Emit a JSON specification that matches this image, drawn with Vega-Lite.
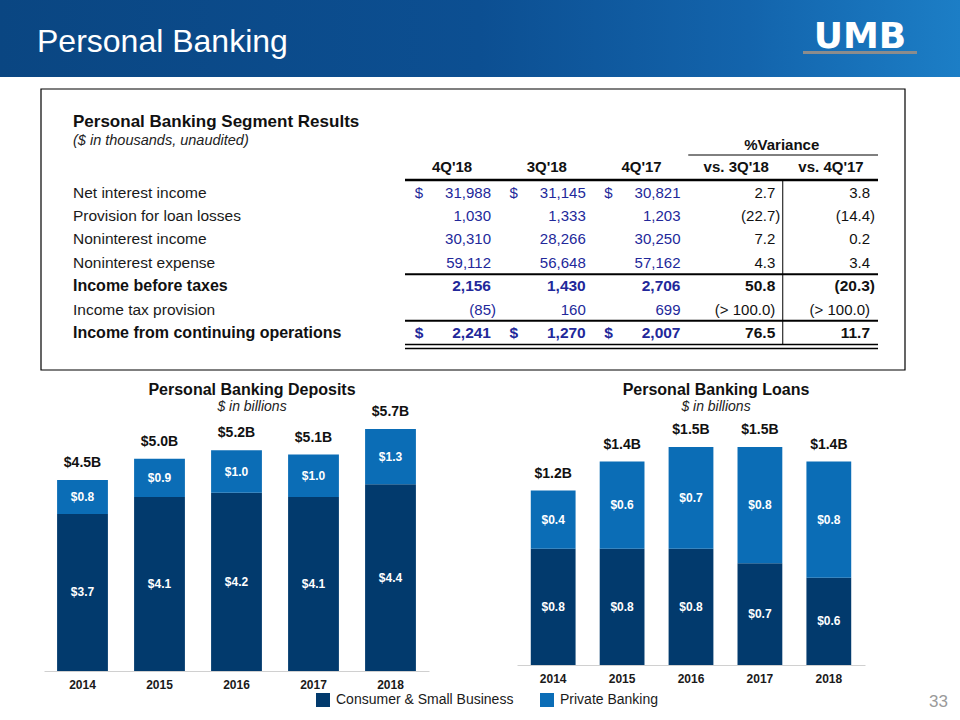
{
  "$schema": "https://vega.github.io/schema/vega-lite/v6.json",
  "width": 960,
  "height": 720,
  "padding": 0,
  "autosize": {"type": "none"},
  "background": "white",
  "config": {
    "view": {"stroke": null},
    "font": "Liberation Sans",
    "legend": {"labelFont": "Liberation Sans"},
    "axis": {"labelFont": "Liberation Sans"}
  },
  "datasets": {
    "table": [
      {"item": "Net interest income", "period": "4Q'18", "value": "31,988", "cur": "$"},
      {"item": "Net interest income", "period": "3Q'18", "value": "31,145", "cur": "$"},
      {"item": "Net interest income", "period": "4Q'17", "value": "30,821", "cur": "$"},
      {"item": "Net interest income", "period": "vs. 3Q'18", "value": "2.7"},
      {"item": "Net interest income", "period": "vs. 4Q'17", "value": "3.8"},
      {"item": "Provision for loan losses", "period": "4Q'18", "value": "1,030"},
      {"item": "Provision for loan losses", "period": "3Q'18", "value": "1,333"},
      {"item": "Provision for loan losses", "period": "4Q'17", "value": "1,203"},
      {"item": "Provision for loan losses", "period": "vs. 3Q'18", "value": "(22.7)"},
      {"item": "Provision for loan losses", "period": "vs. 4Q'17", "value": "(14.4)"},
      {"item": "Noninterest income", "period": "4Q'18", "value": "30,310"},
      {"item": "Noninterest income", "period": "3Q'18", "value": "28,266"},
      {"item": "Noninterest income", "period": "4Q'17", "value": "30,250"},
      {"item": "Noninterest income", "period": "vs. 3Q'18", "value": "7.2"},
      {"item": "Noninterest income", "period": "vs. 4Q'17", "value": "0.2"},
      {"item": "Noninterest expense", "period": "4Q'18", "value": "59,112"},
      {"item": "Noninterest expense", "period": "3Q'18", "value": "56,648"},
      {"item": "Noninterest expense", "period": "4Q'17", "value": "57,162"},
      {"item": "Noninterest expense", "period": "vs. 3Q'18", "value": "4.3"},
      {"item": "Noninterest expense", "period": "vs. 4Q'17", "value": "3.4"},
      {"item": "Income before taxes", "period": "4Q'18", "value": "2,156"},
      {"item": "Income before taxes", "period": "3Q'18", "value": "1,430"},
      {"item": "Income before taxes", "period": "4Q'17", "value": "2,706"},
      {"item": "Income before taxes", "period": "vs. 3Q'18", "value": "50.8"},
      {"item": "Income before taxes", "period": "vs. 4Q'17", "value": "(20.3)"},
      {"item": "Income tax provision", "period": "4Q'18", "value": "(85)"},
      {"item": "Income tax provision", "period": "3Q'18", "value": "160"},
      {"item": "Income tax provision", "period": "4Q'17", "value": "699"},
      {"item": "Income tax provision", "period": "vs. 3Q'18", "value": "(> 100.0)"},
      {"item": "Income tax provision", "period": "vs. 4Q'17", "value": "(> 100.0)"},
      {"item": "Income from continuing operations", "period": "4Q'18", "value": "2,241", "cur": "$"},
      {"item": "Income from continuing operations", "period": "3Q'18", "value": "1,270", "cur": "$"},
      {"item": "Income from continuing operations", "period": "4Q'17", "value": "2,007", "cur": "$"},
      {"item": "Income from continuing operations", "period": "vs. 3Q'18", "value": "76.5"},
      {"item": "Income from continuing operations", "period": "vs. 4Q'17", "value": "11.7"}
    ],
    "deposits": [
      {"year": "2014", "segment": "Consumer & Small Business", "value": 3.7},
      {"year": "2014", "segment": "Private Banking", "value": 0.8},
      {"year": "2015", "segment": "Consumer & Small Business", "value": 4.1},
      {"year": "2015", "segment": "Private Banking", "value": 0.9},
      {"year": "2016", "segment": "Consumer & Small Business", "value": 4.2},
      {"year": "2016", "segment": "Private Banking", "value": 1.0},
      {"year": "2017", "segment": "Consumer & Small Business", "value": 4.1},
      {"year": "2017", "segment": "Private Banking", "value": 1.0},
      {"year": "2018", "segment": "Consumer & Small Business", "value": 4.4},
      {"year": "2018", "segment": "Private Banking", "value": 1.3}
    ],
    "depositTotals": [
      {"year": "2014", "total": 4.5, "label": "$4.5B"},
      {"year": "2015", "total": 5.0, "label": "$5.0B"},
      {"year": "2016", "total": 5.2, "label": "$5.2B"},
      {"year": "2017", "total": 5.1, "label": "$5.1B"},
      {"year": "2018", "total": 5.7, "label": "$5.7B"}
    ],
    "loans": [
      {"year": "2014", "segment": "Consumer & Small Business", "value": 0.8},
      {"year": "2014", "segment": "Private Banking", "value": 0.4},
      {"year": "2015", "segment": "Consumer & Small Business", "value": 0.8},
      {"year": "2015", "segment": "Private Banking", "value": 0.6},
      {"year": "2016", "segment": "Consumer & Small Business", "value": 0.8},
      {"year": "2016", "segment": "Private Banking", "value": 0.7},
      {"year": "2017", "segment": "Consumer & Small Business", "value": 0.7},
      {"year": "2017", "segment": "Private Banking", "value": 0.8},
      {"year": "2018", "segment": "Consumer & Small Business", "value": 0.6},
      {"year": "2018", "segment": "Private Banking", "value": 0.8}
    ],
    "loanTotals": [
      {"year": "2014", "total": 1.2, "label": "$1.2B"},
      {"year": "2015", "total": 1.4, "label": "$1.4B"},
      {"year": "2016", "total": 1.5, "label": "$1.5B"},
      {"year": "2017", "total": 1.5, "label": "$1.5B"},
      {"year": "2018", "total": 1.4, "label": "$1.4B"}
    ]
  },
  "layer": [
    {
      "data": {"values": [{}]},
      "mark": {"type": "rect", "color": {"gradient": "linear", "x1": 0, "x2": 1, "y1": 0, "y2": 0, "stops": [{"offset": 0, "color": "#0a4682"}, {"offset": 0.5, "color": "#0c4f92"}, {"offset": 0.78, "color": "#1364ac"}, {"offset": 1, "color": "#1c7ec6"}]}},
      "encoding": {"x": {"value": 0}, "x2": {"value": 960}, "y": {"value": 0}, "y2": {"value": 77}}
    },
    {
      "data": {"values": [{}]},
      "mark": {"type": "text", "text": "Personal Banking", "color": "white", "fontSize": 32, "align": "left", "baseline": "alphabetic"},
      "encoding": {"x": {"value": 37}, "y": {"value": 52}}
    },
    {
      "data": {"values": [{}]},
      "mark": {"type": "text", "text": "UMB", "color": "white", "font": "DejaVu Sans", "fontWeight": "bold", "fontSize": 36, "align": "center", "baseline": "alphabetic"},
      "encoding": {"x": {"value": 860}, "y": {"value": 48}}
    },
    {
      "data": {"values": [{}]},
      "mark": {"type": "rect", "color": "#8c8c8c"},
      "encoding": {"x": {"value": 803}, "x2": {"value": 917}, "y": {"value": 51}, "y2": {"value": 54}}
    },
    {
      "data": {"values": [{}]},
      "mark": {"type": "rect", "fill": "white", "fillOpacity": 0, "stroke": "#000000", "strokeWidth": 1.2},
      "encoding": {"x": {"value": 41}, "x2": {"value": 905}, "y": {"value": 89}, "y2": {"value": 370}}
    },
    {
      "data": {"values": [{}]},
      "mark": {"type": "text", "text": "33", "color": "#9a9a9a", "fontSize": 17, "align": "right", "baseline": "middle"},
      "encoding": {"x": {"value": 948}, "y": {"value": 702}}
    },
    {
      "data": {"name": "table"},
      "layer": [
        {
          "data": {"values": [{}]},
          "mark": {"type": "rule", "color": "#000", "strokeWidth": 2.5, "xOffset": -47, "x2Offset": 47, "yOffset": -12.7},
          "encoding": {
            "x": {"datum": "4Q'18", "type": "nominal", "scale": {"type": "point", "domain": ["4Q'18", "3Q'18", "4Q'17", "vs. 3Q'18", "vs. 4Q'17"], "range": [452, 831], "padding": 0}, "axis": null},
            "x2": {"datum": "vs. 4Q'17"},
            "y": {"datum": "Net interest income", "type": "nominal", "scale": {"type": "point", "domain": ["Net interest income", "Provision for loan losses", "Noninterest income", "Noninterest expense", "Income before taxes", "Income tax provision", "Income from continuing operations"], "range": [192.7, 333], "padding": 0}, "axis": null}
          }
        },
        {
          "data": {"values": [{}]},
          "mark": {"type": "rule", "color": "#000", "strokeWidth": 1, "xOffset": -48, "x2Offset": 47, "yOffset": -37.7},
          "encoding": {
            "x": {"datum": "vs. 3Q'18", "type": "nominal", "axis": null},
            "x2": {"datum": "vs. 4Q'17"},
            "y": {"datum": "Net interest income", "type": "nominal", "axis": null}
          }
        },
        {
          "data": {"values": [{}]},
          "mark": {"type": "rule", "color": "#000", "strokeWidth": 2, "xOffset": -47, "x2Offset": 47, "yOffset": -12},
          "encoding": {
            "x": {"datum": "4Q'18", "type": "nominal", "axis": null},
            "x2": {"datum": "vs. 4Q'17"},
            "y": {"datum": "Income before taxes", "type": "nominal", "axis": null}
          }
        },
        {
          "data": {"values": [{}]},
          "mark": {"type": "rule", "color": "#000", "strokeWidth": 2, "xOffset": -47, "x2Offset": 47, "yOffset": -12.3},
          "encoding": {
            "x": {"datum": "4Q'18", "type": "nominal", "axis": null},
            "x2": {"datum": "vs. 4Q'17"},
            "y": {"datum": "Income from continuing operations", "type": "nominal", "axis": null}
          }
        },
        {
          "data": {"values": [{}]},
          "mark": {"type": "rule", "color": "#000", "strokeWidth": 1.5, "xOffset": -47, "x2Offset": 47, "yOffset": 11.5},
          "encoding": {
            "x": {"datum": "4Q'18", "type": "nominal", "axis": null},
            "x2": {"datum": "vs. 4Q'17"},
            "y": {"datum": "Income from continuing operations", "type": "nominal", "axis": null}
          }
        },
        {
          "data": {"values": [{}]},
          "mark": {"type": "rule", "color": "#000", "strokeWidth": 1.5, "xOffset": -47, "x2Offset": 47, "yOffset": 15.5},
          "encoding": {
            "x": {"datum": "4Q'18", "type": "nominal", "axis": null},
            "x2": {"datum": "vs. 4Q'17"},
            "y": {"datum": "Income from continuing operations", "type": "nominal", "axis": null}
          }
        },
        {
          "data": {"values": [{}]},
          "mark": {"type": "rule", "color": "#000", "strokeWidth": 1, "xOffset": 46.5, "yOffset": -12.7, "y2Offset": 11.5},
          "encoding": {
            "x": {"datum": "vs. 3Q'18", "type": "nominal", "axis": null},
            "y": {"datum": "Net interest income", "type": "nominal", "axis": null},
            "y2": {"datum": "Income from continuing operations"}
          }
        },
        {
          "data": {"values": [{}]},
          "mark": {"type": "text", "text": "Personal Banking Segment Results", "fontWeight": "bold", "fontSize": 17, "align": "left", "baseline": "middle", "dx": -379, "dy": -70.7, "color": "#111"},
          "encoding": {
            "x": {"datum": "4Q'18", "type": "nominal", "axis": null},
            "y": {"datum": "Net interest income", "type": "nominal", "axis": null}
          }
        },
        {
          "data": {"values": [{}]},
          "mark": {"type": "text", "text": "($ in thousands, unaudited)", "fontStyle": "italic", "fontSize": 14.5, "align": "left", "baseline": "middle", "dx": -379, "dy": -51.7, "color": "#222"},
          "encoding": {
            "x": {"datum": "4Q'18", "type": "nominal", "axis": null},
            "y": {"datum": "Net interest income", "type": "nominal", "axis": null}
          }
        },
        {
          "data": {"values": [{}]},
          "mark": {"type": "text", "text": "%Variance", "fontWeight": "bold", "fontSize": 15, "align": "center", "baseline": "middle", "dx": 45.5, "dy": -47.7, "color": "#111"},
          "encoding": {
            "x": {"datum": "vs. 3Q'18", "type": "nominal", "axis": null},
            "y": {"datum": "Net interest income", "type": "nominal", "axis": null}
          }
        },
        {
          "transform": [{"filter": "datum.item == 'Net interest income'"}],
          "mark": {"type": "text", "fontWeight": "bold", "fontSize": 15, "align": "center", "baseline": "middle", "dy": -26, "color": "#111"},
          "encoding": {
            "x": {"field": "period", "type": "nominal", "axis": null},
            "y": {"datum": "Net interest income", "type": "nominal", "axis": null},
            "text": {"field": "period"}
          }
        },
        {
          "transform": [{"filter": "datum.period == \"4Q'18\" && datum.item != 'Income before taxes' && datum.item != 'Income from continuing operations'"}],
          "mark": {"type": "text", "fontSize": 15.5, "align": "left", "baseline": "middle", "dx": -379, "color": "#1a1a1a"},
          "encoding": {
            "x": {"datum": "4Q'18", "type": "nominal", "axis": null},
            "y": {"field": "item", "type": "nominal", "axis": null},
            "text": {"field": "item"}
          }
        },
        {
          "transform": [{"filter": "datum.period == \"4Q'18\" && (datum.item == 'Income before taxes' || datum.item == 'Income from continuing operations')"}],
          "mark": {"type": "text", "fontSize": 16, "fontWeight": "bold", "align": "left", "baseline": "middle", "dx": -379, "color": "#111"},
          "encoding": {
            "x": {"datum": "4Q'18", "type": "nominal", "axis": null},
            "y": {"field": "item", "type": "nominal", "axis": null},
            "text": {"field": "item"}
          }
        },
        {
          "transform": [{"filter": "datum.cur == '$' && datum.item != 'Income from continuing operations'"}],
          "mark": {"type": "text", "fontSize": 15, "align": "center", "baseline": "middle", "dx": -33, "color": "#22289a"},
          "encoding": {
            "x": {"field": "period", "type": "nominal", "axis": null},
            "y": {"field": "item", "type": "nominal", "axis": null},
            "text": {"field": "cur"}
          }
        },
        {
          "transform": [{"filter": "datum.cur == '$' && datum.item == 'Income from continuing operations'"}],
          "mark": {"type": "text", "fontSize": 15.5, "fontWeight": "bold", "align": "center", "baseline": "middle", "dx": -33, "color": "#22289a"},
          "encoding": {
            "x": {"field": "period", "type": "nominal", "axis": null},
            "y": {"field": "item", "type": "nominal", "axis": null},
            "text": {"field": "cur"}
          }
        },
        {
          "transform": [{"filter": "datum.item != 'Income before taxes' && datum.item != 'Income from continuing operations' && !(indexof(datum.value, ')') >= 0 && indexof(datum.value, '>') < 0)"}],
          "mark": {"type": "text", "fontSize": 15, "align": "right", "baseline": "middle", "dx": 39},
          "encoding": {
            "x": {"field": "period", "type": "nominal", "axis": null},
            "y": {"field": "item", "type": "nominal", "axis": null},
            "text": {"field": "value"},
            "color": {"condition": {"test": "indexof(datum.period, 'vs.') == 0", "value": "#111111"}, "value": "#22289a"}
          }
        },
        {
          "transform": [{"filter": "datum.item != 'Income before taxes' && datum.item != 'Income from continuing operations' && indexof(datum.value, ')') >= 0 && indexof(datum.value, '>') < 0"}],
          "mark": {"type": "text", "fontSize": 15, "align": "right", "baseline": "middle", "dx": 44},
          "encoding": {
            "x": {"field": "period", "type": "nominal", "axis": null},
            "y": {"field": "item", "type": "nominal", "axis": null},
            "text": {"field": "value"},
            "color": {"condition": {"test": "indexof(datum.period, 'vs.') == 0", "value": "#111111"}, "value": "#22289a"}
          }
        },
        {
          "transform": [{"filter": "(datum.item == 'Income before taxes' || datum.item == 'Income from continuing operations') && indexof(datum.value, ')') < 0"}],
          "mark": {"type": "text", "fontSize": 15.5, "fontWeight": "bold", "align": "right", "baseline": "middle", "dx": 39},
          "encoding": {
            "x": {"field": "period", "type": "nominal", "axis": null},
            "y": {"field": "item", "type": "nominal", "axis": null},
            "text": {"field": "value"},
            "color": {"condition": {"test": "indexof(datum.period, 'vs.') == 0", "value": "#111111"}, "value": "#22289a"}
          }
        },
        {
          "transform": [{"filter": "(datum.item == 'Income before taxes' || datum.item == 'Income from continuing operations') && indexof(datum.value, ')') >= 0"}],
          "mark": {"type": "text", "fontSize": 15.5, "fontWeight": "bold", "align": "right", "baseline": "middle", "dx": 44},
          "encoding": {
            "x": {"field": "period", "type": "nominal", "axis": null},
            "y": {"field": "item", "type": "nominal", "axis": null},
            "text": {"field": "value"},
            "color": {"condition": {"test": "indexof(datum.period, 'vs.') == 0", "value": "#111111"}, "value": "#22289a"}
          }
        }
      ]
    },
    {
      "layer": [
        {
          "data": {"name": "deposits"},
          "mark": {"type": "bar"},
          "encoding": {
            "x": {"field": "year", "type": "ordinal", "scale": {"range": [44, 429], "paddingInner": 0.34, "paddingOuter": 0.17}, "axis": {"orient": "bottom", "offset": -49, "title": null, "labelAngle": 0, "ticks": false, "grid": false, "domainColor": "#d0d0d0", "labelPadding": 8, "labelFontSize": 12, "labelFontWeight": "bold", "labelColor": "#1a1a1a"}},
            "y": {"field": "value", "type": "quantitative", "stack": "zero", "scale": {"domain": [0, 6], "range": [671, 416.36], "nice": false}, "axis": null},
            "color": {"field": "segment", "type": "nominal", "scale": {"domain": ["Consumer & Small Business", "Private Banking"], "range": ["#023a6d", "#0b6db6"]}, "legend": {"orient": "none", "legendX": 316, "legendY": 693, "direction": "horizontal", "title": null, "symbolType": "square", "symbolSize": 196, "symbolStrokeWidth": 0, "labelFontSize": 14, "labelOffset": 6, "labelLimit": 400, "columnPadding": 26, "labelColor": "#1a1a1a"}},
            "order": {"field": "segment", "sort": "ascending"}
          }
        },
        {
          "data": {"name": "deposits"},
          "mark": {"type": "text", "color": "white", "fontWeight": "bold", "fontSize": 12, "baseline": "middle"},
          "encoding": {
            "x": {"field": "year", "type": "ordinal"},
            "y": {"field": "value", "type": "quantitative", "stack": "zero", "bandPosition": 0.5, "axis": null},
            "detail": {"field": "segment"},
            "order": {"field": "segment", "sort": "ascending"},
            "text": {"field": "value", "format": "$.1f"}
          }
        },
        {
          "data": {"name": "depositTotals"},
          "mark": {"type": "text", "color": "#111", "fontWeight": "bold", "fontSize": 14, "baseline": "middle", "dy": -17},
          "encoding": {
            "x": {"field": "year", "type": "ordinal"},
            "y": {"field": "total", "type": "quantitative", "axis": null},
            "text": {"field": "label"}
          }
        },
        {
          "data": {"values": [{}]},
          "mark": {"type": "text", "text": "Personal Banking Deposits", "color": "#111", "fontWeight": "bold", "fontSize": 16, "baseline": "middle", "dx": 15.5},
          "encoding": {
            "x": {"datum": "2016", "type": "ordinal"},
            "y": {"datum": 6.62, "type": "quantitative", "axis": null}
          }
        },
        {
          "data": {"values": [{}]},
          "mark": {"type": "text", "text": "$ in billions", "color": "#222", "fontStyle": "italic", "fontSize": 14, "baseline": "middle", "dx": 15.5},
          "encoding": {
            "x": {"datum": "2016", "type": "ordinal"},
            "y": {"datum": 6.22, "type": "quantitative", "axis": null}
          }
        }
      ]
    },
    {
      "layer": [
        {
          "data": {"name": "loans"},
          "mark": {"type": "bar"},
          "encoding": {
            "x": {"field": "year", "type": "ordinal", "scale": {"range": [517, 865], "paddingInner": 0.35, "paddingOuter": 0.2}, "axis": {"orient": "bottom", "offset": -55, "title": null, "labelAngle": 0, "ticks": false, "grid": false, "domainColor": "#d0d0d0", "labelPadding": 8, "labelFontSize": 12, "labelFontWeight": "bold", "labelColor": "#1a1a1a"}},
            "y": {"field": "value", "type": "quantitative", "stack": "zero", "scale": {"domain": [0, 2], "range": [665, 374.33], "nice": false}, "axis": null},
            "color": {"field": "segment", "type": "nominal", "scale": {"domain": ["Consumer & Small Business", "Private Banking"], "range": ["#023a6d", "#0b6db6"]}, "legend": {"orient": "none", "legendX": 316, "legendY": 693, "direction": "horizontal", "title": null, "symbolType": "square", "symbolSize": 196, "symbolStrokeWidth": 0, "labelFontSize": 14, "labelOffset": 6, "labelLimit": 400, "columnPadding": 26, "labelColor": "#1a1a1a"}},
            "order": {"field": "segment", "sort": "ascending"}
          }
        },
        {
          "data": {"name": "loans"},
          "mark": {"type": "text", "color": "white", "fontWeight": "bold", "fontSize": 12, "baseline": "middle"},
          "encoding": {
            "x": {"field": "year", "type": "ordinal"},
            "y": {"field": "value", "type": "quantitative", "stack": "zero", "bandPosition": 0.5, "axis": null},
            "detail": {"field": "segment"},
            "order": {"field": "segment", "sort": "ascending"},
            "text": {"field": "value", "format": "$.1f"}
          }
        },
        {
          "data": {"name": "loanTotals"},
          "mark": {"type": "text", "color": "#111", "fontWeight": "bold", "fontSize": 14, "baseline": "middle", "dy": -17},
          "encoding": {
            "x": {"field": "year", "type": "ordinal"},
            "y": {"field": "total", "type": "quantitative", "axis": null},
            "text": {"field": "label"}
          }
        },
        {
          "data": {"values": [{}]},
          "mark": {"type": "text", "text": "Personal Banking Loans", "color": "#111", "fontWeight": "bold", "fontSize": 16, "baseline": "middle", "dx": 25},
          "encoding": {
            "x": {"datum": "2016", "type": "ordinal"},
            "y": {"datum": 1.892, "type": "quantitative", "axis": null}
          }
        },
        {
          "data": {"values": [{}]},
          "mark": {"type": "text", "text": "$ in billions", "color": "#222", "fontStyle": "italic", "fontSize": 14, "baseline": "middle", "dx": 25},
          "encoding": {
            "x": {"datum": "2016", "type": "ordinal"},
            "y": {"datum": 1.775, "type": "quantitative", "axis": null}
          }
        }
      ]
    }
  ],
  "resolve": {"scale": {"x": "independent", "y": "independent"}}
}
